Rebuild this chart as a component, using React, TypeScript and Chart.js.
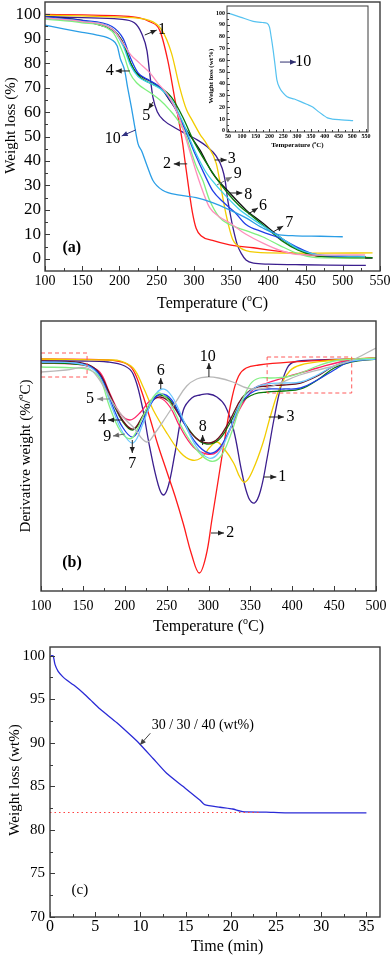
import React, { useEffect, useRef } from "react";
import { Chart, registerables } from "chart.js";
Chart.register(...registerables);

const SERIF = '"Liberation Serif","Times New Roman",serif';
type P = [number, number];

// ---------------- Panel (a): TG curves ----------------
const tgXTicks = [100, 150, 200, 250, 300, 350, 400, 450, 500, 550];
const tgYTicks = [0, 10, 20, 30, 40, 50, 60, 70, 80, 90, 100];
const tg1: P[] = [[100,99],[150,98.6],[200,98],[220,96.5],[230,92],[237,85],[241,75],[245,66],[251,60],[260,56.5],[275,53.5],[290,51],[305,48.5],[317,46],[330,42],[338,37],[342,32],[345,25],[349,18],[353,12],[358,6],[364,2],[370,-0.5],[380,-1.8],[400,-2.2],[437,-2.4],[480,-2.6],[531,-2.7]];
const tg2: P[] = [[100,99.9],[150,99.7],[200,99.3],[227,98.5],[240,97],[254,93.5],[265,81],[274,66],[280,56],[285,47],[288,40],[293,29],[298,19],[303,12.5],[310,9.3],[325,7.5],[348,5.7],[380,4.5],[415,3],[440,2],[464,1.2],[500,1],[531,0.9]];
const tg3: P[] = [[100,99.6],[150,99.3],[200,98.8],[240,97.5],[257,93.5],[270,84],[281,70],[290,61],[297,57],[308,51],[317,47],[330,39],[337,28],[344,17],[352,8],[360,5],[370,3.3],[401,2.4],[470,2.3],[540,2.4]];
const tg4: P[] = [[100,98.5],[150,97],[190,94],[205,88],[215,83.5],[227,80],[241,76],[251,72],[265,67],[280,58],[294,44.5],[308,31],[321,21],[335,17],[348,14.7],[370,10],[392,6.5],[415,3.5],[437,1.8],[470,1.5],[530,1.6]];
const tg5: P[] = [[100,98],[150,96.5],[190,93],[205,84],[214,76],[223,72],[241,68],[254,65],[267,61],[281,55.5],[290,50],[294,46],[303,38],[312,32],[321,24],[334,17],[348,14],[370,11.5],[392,9],[415,5.5],[437,2.4],[464,0.5],[530,0.3]];
const tg6: P[] = [[100,99],[150,97.5],[174,95.5],[191,93.5],[203,89.4],[210,84],[218,78],[227,75],[245,72],[258,69],[267,65],[276,61],[285,55],[290,52.6],[308,44.5],[325,35],[348,27],[370,20],[392,14.7],[415,9],[437,4.5],[459,1.6],[504,0.4],[540,0.3]];
const tg7: P[] = [[100,98.5],[150,97],[190,94],[205,87],[215,79],[225,74.5],[240,72],[255,69.5],[270,65],[285,56],[300,45],[315,36],[330,30],[345,25],[360,20.5],[380,16],[400,12],[420,8],[440,4],[460,2],[500,1.2],[530,1]];
const tg8: P[] = [[100,98.5],[150,97],[190,94],[205,88],[215,80],[225,75],[240,72],[255,70],[270,66],[285,58],[300,48],[315,40],[330,33],[345,27],[360,22],[380,17],[400,12],[420,7],[440,3.5],[460,1.5],[500,0.7],[540,0.5]];
const tg9: P[] = [[100,99],[150,97.5],[190,95],[205,90],[215,82],[225,76],[240,73],[255,70],[270,64],[285,55],[300,44],[315,34],[325,28],[340,23],[355,19],[370,14],[392,11],[415,8.5],[437,5],[460,2],[500,1],[530,0.8]];
const tg10: P[] = [[100,95.5],[125,94],[150,92.6],[170,91.5],[190,89.5],[197,87],[201,82],[207,77],[211,70],[216,62],[220,55],[225,47],[230,44],[236,39],[245,32],[258,28],[281,26],[303,25],[325,23],[348,20],[370,16.7],[392,12.7],[415,9.8],[437,9.4],[470,9.2],[500,9]];
const tgSeries = [tg10, tg4, tg5, tg7, tg9, tg8, tg6, tg3, tg2, tg1];
const tgColors = ["#2b9ee6", "#ff8fbc", "#7ef07e", "#3dd0e8", "#1f3fe6", "#0a7a0a", "#111111", "#f2cc00", "#ff1a1a", "#3b1e8e"];

// inset (curve 10)
const insetXTicks = [50, 100, 150, 200, 250, 300, 350, 400, 450, 500, 550];
const insetYTicks = [0, 10, 20, 30, 40, 50, 60, 70, 80, 90, 100];
const inset10: P[] = [[50,100],[94,96.6],[141,93],[175,92],[191,91.3],[200,88],[206,80],[213,69],[220,56],[227,43],[238,36],[250,32],[264,29],[290,27],[311,25],[335,22.5],[358,20],[376,16.5],[394,13.5],[410,11],[427,10],[460,9.3],[503,8.7]];

// ---------------- Panel (b): DTG curves ----------------
const dtgXTicks = [100, 150, 200, 250, 300, 350, 400, 450, 500];
const d1: P[] = [[100,-0.03],[150,-0.03],[180,-0.04],[200,-0.08],[210,-0.16],[220,-0.45],[230,-0.9],[240,-1.27],[246,-1.37],[252,-1.28],[260,-0.95],[270,-0.52],[280,-0.4],[290,-0.37],[300,-0.36],[310,-0.39],[320,-0.48],[330,-0.72],[340,-1.15],[348,-1.4],[355,-1.45],[362,-1.33],[370,-1.0],[378,-0.62],[386,-0.3],[394,-0.1],[402,-0.04],[430,-0.02],[500,-0.01]];
const d2: P[] = [[100,-0.01],[180,-0.02],[200,-0.05],[210,-0.12],[220,-0.33],[230,-0.6],[240,-0.88],[250,-1.13],[260,-1.38],[270,-1.66],[280,-1.97],[289,-2.15],[297,-1.98],[304,-1.62],[312,-1.2],[320,-0.78],[328,-0.4],[336,-0.18],[345,-0.1],[360,-0.07],[400,-0.04],[450,-0.02],[500,0]];
const d3: P[] = [[100,-0.01],[180,-0.02],[195,-0.03],[210,-0.1],[222,-0.29],[234,-0.52],[251,-0.76],[267,-0.95],[280,-1.02],[291,-1.0],[302,-0.89],[310,-0.84],[318,-0.9],[330,-1.05],[338,-1.2],[344,-1.24],[353,-1.12],[365,-0.85],[374,-0.58],[385,-0.3],[397,-0.13],[410,-0.07],[440,-0.03],[470,-0.01],[500,0]];
const d4: P[] = [[100,-0.05],[140,-0.06],[155,-0.08],[170,-0.14],[182,-0.35],[194,-0.55],[206,-0.62],[218,-0.55],[230,-0.43],[242,-0.4],[254,-0.49],[266,-0.69],[282,-0.89],[298,-0.96],[310,-0.94],[322,-0.78],[338,-0.5],[354,-0.31],[370,-0.25],[389,-0.2],[409,-0.15],[430,-0.1],[457,-0.04],[480,-0.01],[500,0]];
const d5: P[] = [[100,-0.09],[140,-0.1],[158,-0.12],[170,-0.2],[182,-0.49],[194,-0.72],[203,-0.8],[210,-0.79],[222,-0.58],[234,-0.39],[242,-0.35],[254,-0.45],[270,-0.72],[287,-0.93],[302,-1.03],[314,-0.99],[326,-0.78],[338,-0.48],[350,-0.26],[361,-0.2],[375,-0.2],[393,-0.19],[410,-0.15],[430,-0.08],[450,-0.03],[480,-0.01],[500,0]];
const d6: P[] = [[100,-0.04],[140,-0.05],[160,-0.1],[172,-0.22],[185,-0.5],[198,-0.75],[210,-0.85],[222,-0.65],[234,-0.4],[245,-0.31],[256,-0.38],[270,-0.62],[285,-0.88],[300,-1.0],[312,-0.95],[325,-0.73],[340,-0.42],[355,-0.3],[370,-0.26],[390,-0.25],[410,-0.24],[430,-0.17],[450,-0.08],[470,-0.03],[500,-0.01]];
const d7: P[] = [[100,-0.04],[140,-0.05],[160,-0.09],[172,-0.2],[185,-0.47],[198,-0.7],[210,-0.79],[222,-0.62],[234,-0.42],[244,-0.36],[256,-0.42],[270,-0.64],[285,-0.85],[300,-0.95],[312,-0.91],[325,-0.72],[340,-0.44],[355,-0.33],[370,-0.31],[390,-0.31],[410,-0.3],[430,-0.22],[450,-0.12],[465,-0.05],[480,-0.02],[500,-0.01]];
const d8: P[] = [[100,-0.05],[140,-0.06],[160,-0.09],[172,-0.19],[185,-0.43],[198,-0.64],[210,-0.72],[222,-0.58],[234,-0.41],[243,-0.37],[256,-0.44],[270,-0.63],[285,-0.8],[298,-0.86],[312,-0.82],[325,-0.66],[340,-0.44],[355,-0.36],[370,-0.34],[390,-0.33],[410,-0.31],[430,-0.22],[450,-0.1],[470,-0.04],[500,-0.01]];
const d9: P[] = [[100,-0.03],[140,-0.04],[160,-0.08],[172,-0.18],[185,-0.42],[198,-0.63],[210,-0.71],[222,-0.57],[234,-0.42],[243,-0.39],[256,-0.46],[270,-0.64],[285,-0.8],[300,-0.85],[312,-0.8],[325,-0.63],[340,-0.4],[355,-0.3],[370,-0.28],[390,-0.27],[410,-0.25],[430,-0.18],[450,-0.08],[470,-0.03],[500,-0.01]];
const d10: P[] = [[100,-0.14],[130,-0.12],[155,-0.1],[170,-0.22],[186,-0.45],[198,-0.59],[210,-0.69],[226,-0.84],[237,-0.74],[250,-0.58],[261,-0.44],[274,-0.28],[286,-0.21],[298,-0.19],[312,-0.2],[329,-0.24],[346,-0.3],[362,-0.31],[380,-0.27],[409,-0.17],[440,-0.1],[469,-0.03],[500,0.1]];
const dtgSeries = [d10, d5, d6, d7, d9, d8, d4, d3, d2, d1];
const dtgColors = ["#b8b8b8", "#86f086", "#6cc8ff", "#1f3fe6", "#6a1020", "#0a7a0a", "#ff2266", "#f2cc00", "#ff1a1a", "#3b1e8e"];
const boxLeft: P[] = [[100,0.05],[155,0.05],[155,-0.19],[100,-0.19],[100,0.05]];
const boxRight: P[] = [[370,0.01],[471,0.01],[471,-0.35],[370,-0.35],[370,0.01]];

// ---------------- Panel (c): isothermal ----------------
const timeTicks = [0, 5, 10, 15, 20, 25, 30, 35];
const wlTicks = [70, 75, 80, 85, 90, 95, 100];
const iso: P[] = [[0.1,100],[0.35,100],[0.55,99],[0.9,98.2],[1.4,97.6],[1.84,97.2],[2.8,96.5],[3.7,95.7],[4.5,94.9],[5.5,93.9],[7.4,92.3],[9.2,90.6],[9.9,89.9],[11.4,88.2],[12.9,86.5],[14.7,85.0],[16.6,83.4],[17.1,82.9],[18.8,82.6],[20.2,82.4],[21.3,82.1],[23.9,82.04],[26.2,81.96],[30,81.96],[35,81.95]];
const plateau: P[] = [[0,82],[23.2,82]];

// ---------------- helpers ----------------
type Part = { t: string; sup?: boolean };
type Txt = { x: number; y: number; parts: Part[]; size: number; bold?: boolean };
type Arrow = { x1: number; y1: number; x2: number; y2: number; color?: string };
type Title = { parts: Part[]; size: number; bold?: boolean; rotate?: boolean; dx: number; dy: number };
type Deco = {
  xMajor: number[]; xMinor: number[]; yMajor: number[]; yMinor: number[];
  tick: number; minor: number; frame: number;
  texts: Txt[]; arrows: Arrow[]; titles: Title[];
};
const s = (t: string): Part[] => [{ t }];
const degC = (pre: string): Part[] => [{ t: pre }, { t: "o", sup: true }, { t: "C)" }];
const mids = (a: number[]) => a.slice(1).map((v, i) => (v + a[i]) / 2);
const pts = (a: P[]) => a.map(([x, y]) => ({ x, y }));

function drawParts(ctx: CanvasRenderingContext2D, parts: Part[], x: number, y: number, size: number, bold?: boolean) {
  const w = bold ? "bold " : "";
  const f = (sup?: boolean) => `${w}${sup ? Math.round(size * 0.62) : size}px ${SERIF}`;
  let total = 0;
  for (const p of parts) { ctx.font = f(p.sup); total += ctx.measureText(p.t).width; }
  let cx = x - total / 2;
  ctx.textAlign = "left";
  ctx.textBaseline = "middle";
  ctx.fillStyle = "#000";
  for (const p of parts) {
    ctx.font = f(p.sup);
    ctx.fillText(p.t, cx, p.sup ? y - size * 0.36 : y);
    cx += ctx.measureText(p.t).width;
  }
}

function makeDeco(d: Deco) {
  return {
    id: "deco",
    afterDraw(chart: any) {
      const ctx: CanvasRenderingContext2D = chart.ctx;
      const a = chart.chartArea;
      const xs = chart.scales.x, ys = chart.scales.y;
      ctx.save();
      ctx.strokeStyle = "#3a3a3a";
      ctx.lineWidth = 1;
      const ln = (x1: number, y1: number, x2: number, y2: number) => { ctx.beginPath(); ctx.moveTo(x1, y1); ctx.lineTo(x2, y2); ctx.stroke(); };
      for (const v of d.xMajor) { const p = Math.round(xs.getPixelForValue(v)) + 0.5; ln(p, a.bottom, p, a.bottom - d.tick); }
      for (const v of d.xMinor) { const p = Math.round(xs.getPixelForValue(v)) + 0.5; ln(p, a.bottom, p, a.bottom - d.minor); }
      for (const v of d.yMajor) { const p = Math.round(ys.getPixelForValue(v)) + 0.5; ln(a.left, p, a.left + d.tick, p); }
      for (const v of d.yMinor) { const p = Math.round(ys.getPixelForValue(v)) + 0.5; ln(a.left, p, a.left + d.minor, p); }
      ctx.lineWidth = d.frame;
      ctx.strokeRect(a.left, a.top, a.right - a.left, a.bottom - a.top);
      for (const ar of d.arrows) {
        const x1 = xs.getPixelForValue(ar.x1), y1 = ys.getPixelForValue(ar.y1);
        const x2 = xs.getPixelForValue(ar.x2), y2 = ys.getPixelForValue(ar.y2);
        const c = ar.color || "#222";
        ctx.strokeStyle = c; ctx.fillStyle = c; ctx.lineWidth = 1;
        ln(x1, y1, x2, y2);
        const ang = Math.atan2(y2 - y1, x2 - x1);
        const L = 6, H = 2.6;
        ctx.beginPath();
        ctx.moveTo(x2, y2);
        ctx.lineTo(x2 - L * Math.cos(ang) + H * Math.sin(ang), y2 - L * Math.sin(ang) - H * Math.cos(ang));
        ctx.lineTo(x2 - L * Math.cos(ang) - H * Math.sin(ang), y2 - L * Math.sin(ang) + H * Math.cos(ang));
        ctx.closePath();
        ctx.fill();
      }
      for (const t of d.texts) drawParts(ctx, t.parts, xs.getPixelForValue(t.x), ys.getPixelForValue(t.y), t.size, t.bold);
      for (const t of d.titles) {
        if (t.rotate) {
          ctx.save();
          ctx.translate(a.left + t.dx, (a.top + a.bottom) / 2 + t.dy);
          ctx.rotate(-Math.PI / 2);
          drawParts(ctx, t.parts, 0, 0, t.size, t.bold);
          ctx.restore();
        } else {
          drawParts(ctx, t.parts, (a.left + a.right) / 2 + t.dx, a.bottom + t.dy, t.size, t.bold);
        }
      }
      ctx.restore();
    },
  };
}

type Spec = {
  W: number; H: number; area: { left: number; top: number; right: number; bottom: number };
  x: [number, number]; y: [number, number];
  xTicks: number[]; yTicks: number[];
  xFont: number; yFont: number; xPad: number; yPad: number; bold?: boolean; showY: boolean;
  datasets: any[]; deco: Deco;
};

function build(sp: Spec): any {
  const zero = (sc: any) => { sc.paddingTop = 0; sc.paddingBottom = 0; sc.paddingLeft = 0; sc.paddingRight = 0; };
  return {
    type: "line",
    data: { datasets: sp.datasets },
    options: {
      responsive: false,
      animation: false,
      devicePixelRatio: 1,
      layout: { padding: { left: 0, top: sp.area.top, right: sp.W - sp.area.right, bottom: 0 } },
      plugins: { legend: { display: false }, tooltip: { enabled: false }, title: { display: false } },
      elements: { point: { radius: 0 } },
      scales: {
        x: {
          type: "linear", min: sp.x[0], max: sp.x[1],
          grid: { display: false, drawTicks: false }, border: { display: false },
          afterBuildTicks: (sc: any) => { sc.ticks = sp.xTicks.map((v) => ({ value: v })); },
          afterFit: (sc: any) => { sc.height = sp.H - sp.area.bottom; zero(sc); },
          ticks: { color: "#000", padding: sp.xPad, maxRotation: 0, autoSkip: false, font: { family: SERIF, size: sp.xFont, weight: sp.bold ? "bold" : "normal" }, callback: (v: any) => String(v) },
        },
        y: {
          type: "linear", min: sp.y[0], max: sp.y[1],
          grid: { display: false, drawTicks: false }, border: { display: false },
          afterBuildTicks: (sc: any) => { sc.ticks = sp.yTicks.map((v) => ({ value: v })); },
          afterFit: (sc: any) => { sc.width = sp.area.left; zero(sc); },
          ticks: { display: sp.showY, color: "#000", padding: sp.yPad, autoSkip: false, font: { family: SERIF, size: sp.yFont, weight: sp.bold ? "bold" : "normal" }, callback: (v: any) => String(v) },
        },
      },
    },
    plugins: [makeDeco(sp.deco)],
  };
}

const line = (d: P[], color: string, extra: any = {}) => ({
  data: pts(d), borderColor: color, borderWidth: 1.3, pointRadius: 0, fill: false, ...extra,
});

const makeA = () => build({
  W: 392, H: 312, area: { left: 45, top: 2, right: 380, bottom: 271 },
  x: [100, 550], y: [-5, 105], xTicks: tgXTicks, yTicks: tgYTicks,
  xFont: 14, yFont: 17, xPad: 2, yPad: 4, showY: true,
  datasets: tgSeries.map((d, i) => line(d, tgColors[i], { cubicInterpolationMode: "monotone" })),
  deco: {
    xMajor: tgXTicks, xMinor: mids(tgXTicks), yMajor: tgYTicks, yMinor: mids(tgYTicks),
    tick: 5, minor: 3, frame: 1.4,
    texts: [
      { x: 257, y: 93.6, parts: s("1"), size: 16 },
      { x: 187, y: 76.8, parts: s("4"), size: 16 },
      { x: 236, y: 58.4, parts: s("5"), size: 16 },
      { x: 191, y: 49, parts: s("10"), size: 16 },
      { x: 264, y: 38.8, parts: s("2"), size: 16 },
      { x: 351, y: 40.8, parts: s("3"), size: 16 },
      { x: 359, y: 34.7, parts: s("9"), size: 16 },
      { x: 373, y: 26.1, parts: s("8"), size: 16 },
      { x: 393, y: 21.6, parts: s("6"), size: 16 },
      { x: 428, y: 14.6, parts: s("7"), size: 16 },
      { x: 136, y: 4.4, parts: s("(a)"), size: 16, bold: true },
    ],
    arrows: [
      { x1: 234, y1: 91.5, x2: 250, y2: 93.5 },
      { x1: 214, y1: 76.8, x2: 195, y2: 76.8 },
      { x1: 245, y1: 64.1, x2: 239, y2: 61.2 },
      { x1: 222, y1: 52.7, x2: 203, y2: 50.2, color: "#303080" },
      { x1: 291, y1: 38.8, x2: 273, y2: 38.8 },
      { x1: 328, y1: 40.4, x2: 344, y2: 40.4 },
      { x1: 331, y1: 30.2, x2: 351, y2: 33.4, color: "#777" },
      { x1: 348, y1: 26.9, x2: 365, y2: 26.9 },
      { x1: 373, y1: 18.3, x2: 386, y2: 20.8 },
      { x1: 406, y1: 10.9, x2: 420, y2: 13.4 },
    ],
    titles: [
      { parts: degC("Temperature ("), size: 16, dx: 0, dy: 33 },
      { parts: s("Weight loss (%)"), size: 15, rotate: true, dx: -34, dy: -11 },
    ],
  },
});

const makeInset = () => build({
  W: 180, H: 152, area: { left: 27, top: 6, right: 168, bottom: 132 },
  x: [46, 557], y: [-1, 106], xTicks: insetXTicks, yTicks: insetYTicks,
  xFont: 6, yFont: 6, xPad: 1, yPad: 2, bold: true, showY: true,
  datasets: [line(inset10, "#55c2f0", { cubicInterpolationMode: "monotone", borderWidth: 1.2 })],
  deco: {
    xMajor: insetXTicks, xMinor: mids(insetXTicks), yMajor: insetYTicks, yMinor: mids(insetYTicks),
    tick: 3, minor: 2, frame: 1,
    texts: [{ x: 322, y: 58.4, parts: s("10"), size: 16 }],
    arrows: [{ x1: 238, y1: 58.4, x2: 296, y2: 58.4, color: "#303070" }],
    titles: [
      { parts: degC("Temperature ("), size: 7, bold: true, dx: 0, dy: 13.5 },
      { parts: s("Weight loss (wt%)"), size: 7, bold: true, rotate: true, dx: -16, dy: 7 },
    ],
  },
});

const makeB = () => build({
  W: 392, H: 326, area: { left: 41, top: 9, right: 376, bottom: 279 },
  x: [100, 500], y: [-2.33, 0.37], xTicks: dtgXTicks, yTicks: [],
  xFont: 14, yFont: 14, xPad: 7, yPad: 4, showY: false,
  datasets: [
    line(boxLeft, "#ff5a5a", { borderDash: [4, 3], borderWidth: 1, tension: 0 }),
    line(boxRight, "#ff5a5a", { borderDash: [4, 3], borderWidth: 1, tension: 0 }),
    ...dtgSeries.map((d, i) => line(d, dtgColors[i], { tension: 0.4 })),
  ],
  deco: {
    xMajor: dtgXTicks, xMinor: mids(dtgXTicks), yMajor: [], yMinor: [],
    tick: 5, minor: 3, frame: 1.4,
    texts: [
      { x: 299, y: 0.01, parts: s("10"), size: 16 },
      { x: 243, y: -0.13, parts: s("6"), size: 16 },
      { x: 158.5, y: -0.41, parts: s("5"), size: 16 },
      { x: 173, y: -0.62, parts: s("4"), size: 16 },
      { x: 179, y: -0.79, parts: s("9"), size: 16 },
      { x: 209, y: -1.06, parts: s("7"), size: 16 },
      { x: 293, y: -0.69, parts: s("8"), size: 16 },
      { x: 398, y: -0.59, parts: s("3"), size: 16 },
      { x: 388, y: -1.19, parts: s("1"), size: 16 },
      { x: 326, y: -1.75, parts: s("2"), size: 16 },
      { x: 137, y: -2.05, parts: s("(b)"), size: 16, bold: true },
    ],
    arrows: [
      { x1: 300.5, y1: -0.19, x2: 300.5, y2: -0.05 },
      { x1: 243, y1: -0.31, x2: 243, y2: -0.2 },
      { x1: 182, y1: -0.41, x2: 167, y2: -0.41, color: "#888" },
      { x1: 197, y1: -0.62, x2: 180, y2: -0.62 },
      { x1: 200, y1: -0.76, x2: 186, y2: -0.78, color: "#666" },
      { x1: 209, y1: -0.82, x2: 209, y2: -0.95 },
      { x1: 293, y1: -0.87, x2: 293, y2: -0.77 },
      { x1: 372, y1: -0.59, x2: 390, y2: -0.59 },
      { x1: 366, y1: -1.19, x2: 381, y2: -1.19 },
      { x1: 303, y1: -1.75, x2: 318.5, y2: -1.75 },
    ],
    titles: [
      { parts: degC("Temperature ("), size: 16, dx: 0, dy: 36 },
      { parts: degC("Derivative weight (%/"), size: 15, rotate: true, dx: -15, dy: 0 },
    ],
  },
});

const makeC = () => build({
  W: 392, H: 320, area: { left: 50, top: 9, right: 380, bottom: 279 },
  x: [0, 36.5], y: [70, 101], xTicks: timeTicks, yTicks: wlTicks,
  xFont: 16, yFont: 15, xPad: 0, yPad: 5, showY: true,
  datasets: [
    line(plateau, "#ff4040", { borderDash: [1.5, 3], borderWidth: 1.2, tension: 0 }),
    line(iso, "#2a2ad6", { borderWidth: 1.3, tension: 0.2 }),
  ],
  deco: {
    xMajor: timeTicks, xMinor: mids(timeTicks), yMajor: wlTicks, yMinor: mids(wlTicks),
    tick: 5, minor: 3, frame: 1.4,
    texts: [
      { x: 16.9, y: 92.05, parts: s("30 / 30 / 40 (wt%)"), size: 14 },
      { x: 3.3, y: 73.1, parts: s("(c)"), size: 15 },
    ],
    arrows: [{ x1: 11.1, y1: 91.1, x2: 9.95, y2: 89.75, color: "#444" }],
    titles: [
      { parts: s("Time (min)"), size: 16, dx: 12, dy: 30 },
      { parts: s("Weight loss (wt%)"), size: 15, rotate: true, dx: -35, dy: -2 },
    ],
  },
});

function ChartCanvas({ left, top, width, height, make }: { left: number; top: number; width: number; height: number; make: () => any }) {
  const ref = useRef<HTMLCanvasElement>(null);
  useEffect(() => {
    const chart = new Chart(ref.current as HTMLCanvasElement, make());
    return () => chart.destroy();
  }, []);
  return (
    <canvas
      ref={ref}
      width={width}
      height={height}
      style={{ position: "absolute", left, top, width, height, display: "block" }}
    />
  );
}

export default function App() {
  return (
    <div style={{ position: "absolute", left: 0, top: 0, width: 392, height: 958, background: "#fff", overflow: "hidden" }}>
      <ChartCanvas left={0} top={0} width={392} height={312} make={makeA} />
      <ChartCanvas left={200} top={0} width={180} height={152} make={makeInset} />
      <ChartCanvas left={0} top={312} width={392} height={326} make={makeB} />
      <ChartCanvas left={0} top={638} width={392} height={320} make={makeC} />
    </div>
  );
}
